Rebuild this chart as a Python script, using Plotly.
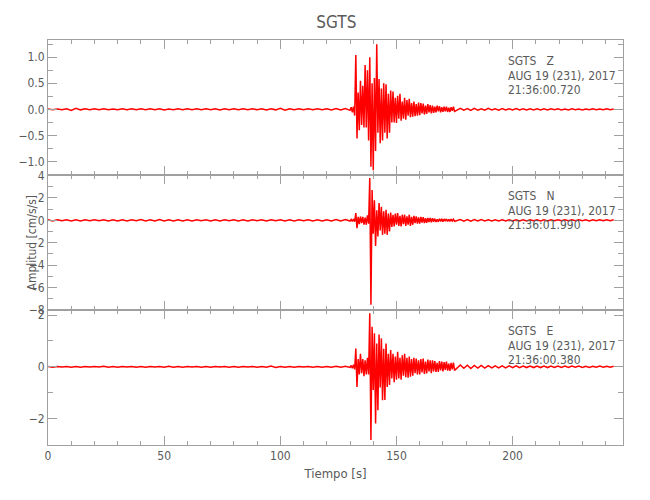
import numpy as np
import plotly.graph_objects as go

# ---- sampling grid (seconds) ----
t_quiet = np.arange(0, 131, 2.0)          # 66 samples
t_strong = np.arange(130.5, 175.01, 0.5)  # 90 samples
t_coda = np.arange(177.5, 244, 1.5)       # 45 samples

# ---- Z component (cm/s/s) ----
z_quiet = [0.008,-0.01,0.008,-0.01,0.01,-0.02,0.02,-0.01,0.01,-0.008,
           0.01,-0.01,0.012,-0.01,0.008,-0.01,0.01,-0.01,0.012,-0.01,
           0.01,-0.008,0.01,-0.01,0.01,-0.012,0.008,-0.01,0.01,-0.01,
           0.012,-0.01,0.01,-0.008,0.01,-0.01,0.01,-0.012,0.01,-0.01,
           0.01,-0.01,0.012,-0.01,0.01,-0.008,0.01,-0.012,0.01,-0.01,
           0.018,-0.015,0.01,-0.01,0.012,-0.01,0.01,-0.01,0.012,-0.01,
           0.012,-0.012,0.015,-0.012,0.015,-0.02]
z_strong = [0.04,-0.06,0.05,-0.12,1.04,-0.56,0.32,-0.4,0.55,-0.3,
            0.45,-0.35,0.85,-0.35,0.75,-0.6,1.0,-1.1,0.5,-1.17,
            0.6,-0.8,1.25,-0.45,0.58,-0.65,0.4,-0.6,0.5,-0.45,
            0.48,-0.56,0.3,-0.45,0.36,-0.25,0.34,-0.25,0.22,-0.26,
            0.26,-0.18,0.3,-0.22,0.15,-0.18,0.22,-0.2,0.18,-0.12,
            0.2,-0.15,0.12,-0.14,0.15,-0.13,0.1,-0.12,0.13,-0.11,
            0.12,-0.08,0.11,-0.1,0.07,-0.09,0.1,-0.06,0.08,-0.08,
            0.07,-0.07,0.05,-0.06,0.07,-0.04,0.06,-0.06,0.04,-0.05,
            0.05,-0.04,0.05,-0.05,0.03,-0.05,0.04,-0.03,0.05,-0.04]
z_coda = [0.02,-0.018,0.015,-0.02,0.018,-0.015,0.012,-0.018,0.018,-0.012,
          0.012,-0.015,0.015,-0.012,0.012,-0.01,0.015,-0.012,0.01,-0.012,
          0.012,-0.01,0.01,-0.012,0.01,-0.01,0.012,-0.008,0.01,-0.01,
          0.008,-0.01,0.01,-0.008,0.008,-0.01,0.008,-0.008,0.01,-0.008,
          0.008,-0.008,0.01,-0.008,0.008]

# ---- N component ----
n_quiet = [0.04,-0.05,0.05,-0.04,0.05,-0.05,0.04,-0.05,0.05,-0.04,
           0.05,-0.04,0.05,-0.05,0.04,-0.05,0.05,-0.05,0.04,-0.04,
           0.06,-0.05,0.05,-0.05,0.06,-0.05,0.04,-0.05,0.05,-0.05,
           0.04,-0.05,0.05,-0.04,0.05,-0.05,0.04,-0.05,0.05,-0.04,
           0.05,-0.05,0.04,-0.05,0.05,-0.04,0.05,-0.05,0.05,-0.04,
           0.05,-0.05,0.04,-0.05,0.05,-0.04,0.05,-0.05,0.04,-0.05,
           0.05,-0.05,0.06,-0.05,0.06,-0.07]
n_strong = [0.08,-0.1,0.1,-0.12,0.64,-0.7,0.3,-0.35,0.34,-0.25,
            0.3,-0.38,0.25,-0.4,0.45,-0.3,3.77,-7.56,2.7,-1.2,
            1.8,-2.3,0.9,-1.45,1.54,-0.9,1.2,-1.3,0.8,-1.2,
            0.94,-1.3,0.6,-1.0,0.7,-0.6,0.5,-0.55,0.6,-0.4,
            0.64,-0.5,0.4,-0.55,0.5,-0.35,0.5,-0.5,0.35,-0.4,
            0.5,-0.5,0.3,-0.4,0.4,-0.25,0.35,-0.3,0.25,-0.3,
            0.3,-0.2,0.28,-0.25,0.18,-0.22,0.22,-0.15,0.2,-0.18,
            0.18,-0.12,0.15,-0.15,0.1,-0.14,0.14,-0.1,0.13,-0.12,
            0.12,-0.08,0.12,-0.1,0.08,-0.1,0.1,-0.07,0.1,-0.09]
n_coda = [0.07,-0.07,0.06,-0.07,0.06,-0.06,0.06,-0.06,0.05,-0.05,
          0.05,-0.05,0.05,-0.05,0.05,-0.05,0.05,-0.05,0.05,-0.05,
          0.05,-0.04,0.05,-0.05,0.04,-0.05,0.04,-0.04,0.05,-0.04,
          0.04,-0.04,0.04,-0.04,0.05,-0.04,0.04,-0.05,0.04,-0.04,
          0.05,-0.04,0.04,-0.04,0.04]

# ---- E component ----
e_quiet = [0.012,-0.015,0.015,-0.012,0.015,-0.015,0.012,-0.015,0.015,-0.012,
           0.015,-0.012,0.02,-0.015,0.012,-0.015,0.015,-0.012,0.015,-0.015,
           0.012,-0.015,0.015,-0.012,0.015,-0.015,0.02,-0.015,0.012,-0.015,
           0.015,-0.012,0.015,-0.015,0.012,-0.015,0.015,-0.012,0.015,-0.015,
           0.012,-0.015,0.015,-0.012,0.015,-0.015,0.012,-0.015,0.03,-0.025,
           0.015,-0.015,0.012,-0.015,0.015,-0.012,0.015,-0.015,0.012,-0.015,
           0.015,-0.015,0.02,-0.015,0.02,-0.025]
e_strong = [0.05,-0.06,0.08,-0.1,0.71,-0.78,0.3,-0.3,0.5,-0.25,
            0.3,-0.36,0.25,-0.3,0.35,-0.3,2.07,-2.84,1.55,-0.9,
            1.3,-2.2,0.9,-1.68,1.25,-0.8,1.1,-1.3,0.7,-1.29,
            0.9,-0.78,0.5,-0.7,0.65,-0.45,0.5,-0.6,0.4,-0.5,
            0.58,-0.45,0.35,-0.5,0.45,-0.35,0.5,-0.4,0.35,-0.42,
            0.4,-0.38,0.3,-0.35,0.35,-0.25,0.32,-0.3,0.25,-0.3,
            0.3,-0.22,0.32,-0.28,0.2,-0.26,0.28,-0.18,0.25,-0.25,
            0.25,-0.18,0.22,-0.2,0.15,-0.2,0.22,-0.14,0.2,-0.18,
            0.18,-0.12,0.2,-0.15,0.12,-0.16,0.15,-0.1,0.16,-0.14]
e_coda = [0.07,-0.06,0.06,-0.07,0.05,-0.05,0.05,-0.05,0.045,-0.045,
          0.04,-0.04,0.04,-0.04,0.035,-0.035,0.035,-0.035,0.03,-0.03,
          0.03,-0.03,0.03,-0.03,0.025,-0.03,0.03,-0.025,0.025,-0.025,
          0.025,-0.025,0.025,-0.02,0.025,-0.025,0.02,-0.025,0.02,-0.02,
          0.025,-0.02,0.02,-0.02,0.02]

# ---- labels ----
station = "SGTS"
components = ["Z", "N", "E"]
date_label = "AUG 19 (231), 2017"
start_times = ["21:36:00.720", "21:36:01.990", "21:36:00.380"]
y_ranges = [[-1.26, 1.33], [-8.02, 4.05], [-3.03, 2.2]]
y_dticks = [0.5, 2, 2]
y_minor = [0.25, 1, 1]
y_formats = [".1f", "d", "d"]
x_range = [0, 247.5]

t_all = np.concatenate([t_quiet, t_strong, t_coda])
series = [z_quiet + z_strong + z_coda,
          n_quiet + n_strong + n_coda,
          e_quiet + e_strong + e_coda]

FONT = "DejaVu Sans Condensed, Liberation Sans Narrow, DejaVu Sans, sans-serif"
AXC = "#a0a0a0"
TXC = "#5a5a5a"

fig = go.Figure()
domains = [[2/3, 1.0], [1/3, 2/3], [0.0, 1/3]]
for i, vals in enumerate(series):
    k = "" if i == 0 else str(i + 1)
    fig.add_trace(go.Scatter(x=t_all, y=vals, mode="lines",
                             line=dict(color="#ff0000", width=1.5),
                             xaxis="x" + k, yaxis="y" + k,
                             showlegend=False, hoverinfo="skip"))
    xa = dict(range=x_range, domain=[0, 1], anchor="y" + k,
              showline=True, linecolor=AXC, linewidth=1, mirror="ticks",
              ticks="inside", ticklen=9, tickcolor=AXC, dtick=50, tick0=0,
              minor=dict(dtick=10, ticks="inside", ticklen=4, tickcolor=AXC),
              showgrid=False, zeroline=False,
              showticklabels=(i == 2),
              tickfont=dict(family=FONT, size=12, color=TXC))
    if i == 2:
        xa["title"] = dict(text="Tiempo [s]", font=dict(family=FONT, size=13, color=TXC),
                           standoff=6)
    else:
        xa["matches"] = "x3"
    ya = dict(range=y_ranges[i], domain=domains[i], anchor="x" + k,
              showline=True, linecolor=AXC, linewidth=1, mirror="ticks",
              ticks="inside", ticklen=9, tickcolor=AXC,
              dtick=y_dticks[i], tick0=0, tickformat=y_formats[i],
              minor=dict(dtick=y_minor[i], ticks="inside", ticklen=5, tickcolor=AXC),
              showgrid=False, zeroline=False,
              tickfont=dict(family=FONT, size=12, color=TXC))
    fig.layout["xaxis" + k] = xa
    fig.layout["yaxis" + k] = ya

annotations = []
panel_tops = [1.0, 2/3, 1/3]
plot_h = 405
for i in range(3):
    lines = [station + "\u00a0\u00a0\u00a0" + components[i], date_label, start_times[i]]
    for j, txt in enumerate(lines):
        annotations.append(dict(text=txt, xref="paper", yref="paper",
                                x=0.796, y=panel_tops[i] - (21 + 14.5 * j) / plot_h,
                                xanchor="left", yanchor="middle", showarrow=False,
                                font=dict(family=FONT, size=12, color=TXC)))
annotations.append(dict(text="Amplitud [cm/s/s]", xref="paper", yref="paper",
                        x=0, y=0.5, xshift=-17, xanchor="center", yanchor="middle",
                        textangle=-90, showarrow=False,
                        font=dict(family=FONT, size=12, color=TXC)))

fig.update_layout(
    width=650, height=500,
    margin=dict(l=48, r=27, t=40, b=55),
    paper_bgcolor="white", plot_bgcolor="white",
    title=dict(text=station, x=0.5175, xanchor="center", y=1 - 22 / 500, yanchor="middle",
               font=dict(family=FONT, size=17, color=TXC)),
    annotations=annotations,
    hovermode=False,
)

fig.write_html("out.html", config={"displayModeBar": False},
               post_script="document.body.style.margin='0px';")
